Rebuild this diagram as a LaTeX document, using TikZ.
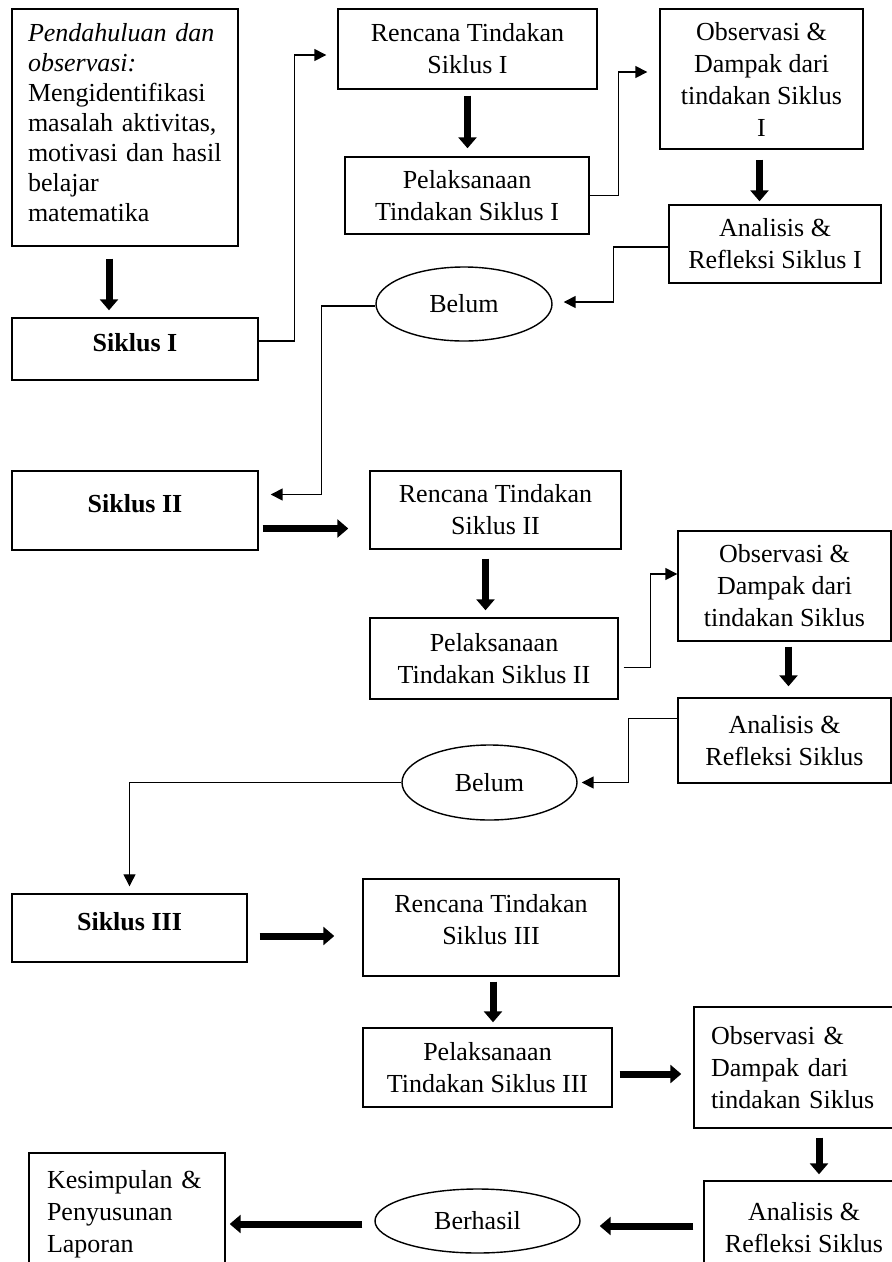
\documentclass[tikz,border=0pt]{standalone}
\usepackage{fontspec}
\setmainfont{Liberation Serif}
\usetikzlibrary{arrows.meta,shapes.geometric}
\tikzset{
  box/.style={draw, line width=1.4pt, rectangle, inner sep=0pt, align=center,
              font=\fontsize{26}{32}\selectfont},
  cyc/.style={box, font=\fontsize{26}{32}\selectfont\bfseries, text height=18pt, text depth=14pt},
  leftbox/.style={box, align=left, inner xsep=0pt},
  oval/.style={draw, ellipse, line width=1.4pt, inner sep=0pt,
               font=\fontsize{26}{32}\selectfont},
  fat/.style={line width=7pt, -{Triangle[width=18pt,length=11pt]}},
  link/.style={line width=1.5pt, -{Triangle[width=12pt,length=12pt]}},
}
\begin{document}
\begin{tikzpicture}[x=1pt,y=-1pt]
\useasboundingbox (0,0) rectangle (892,1262);
\clip (0,0) rectangle (892,1262);

% column 1
\node[leftbox, minimum width=226pt, minimum height=237pt, text width=194pt, text depth=190pt,
      font=\fontsize{26}{30}\selectfont] (pend) at (125,127.5)
  {\textit{Pendahuluan dan}\\\textit{observasi:}\\Mengidentifikasi\\masalah aktivitas,\\motivasi dan hasil\\belajar\\matematika};
\node[cyc, minimum width=246pt, minimum height=62pt] (s1) at (135,349) {Siklus I};
\node[cyc, minimum width=246pt, minimum height=79pt] (s2) at (135,510.5) {Siklus II};
\node[cyc, minimum width=235pt, minimum height=68pt] (s3) at (129.5,928) {Siklus III};
\node[leftbox, minimum width=196pt, minimum height=122pt, text width=160pt] (kes) at (127,1214)
  {Kesimpulan \&\\Penyusunan\\Laporan};

% cycle I
\node[box, minimum width=259pt, minimum height=80pt] (r1) at (467.5,49) {Rencana Tindakan\\Siklus I};
\node[box, minimum width=244pt, minimum height=77pt] (p1) at (467,195.5) {Pelaksanaan\\Tindakan Siklus I};
\node[box, minimum width=203pt, minimum height=140pt] (o1) at (761.5,79) {Observasi \&\\Dampak dari\\tindakan Siklus\\I};
\node[box, minimum width=212pt, minimum height=78pt] (a1) at (775,244) {Analisis \&\\Refleksi Siklus I};
\node[oval, minimum width=176pt, minimum height=74pt] (b1) at (464,304) {Belum};

% cycle II
\node[box, minimum width=251pt, minimum height=78pt] (r2) at (495.5,510) {Rencana Tindakan\\Siklus II};
\node[box, minimum width=248pt, minimum height=81pt] (p2) at (494,658.5) {Pelaksanaan\\Tindakan Siklus II};
\node[box, minimum width=213pt, minimum height=110pt] (o2) at (784.5,586) {Observasi \&\\Dampak dari\\tindakan Siklus};
\node[box, minimum width=213pt, minimum height=85pt] (a2) at (784.5,740.5) {Analisis \&\\Refleksi Siklus};
\node[oval, minimum width=175pt, minimum height=75pt] (b2) at (489.5,782.5) {Belum};

% cycle III
\node[box, minimum width=256pt, minimum height=97pt, text depth=52pt] (r3) at (491,927.5)
  {\begin{tabular}[t]{@{}c@{}}Rencana Tindakan\\Siklus III\end{tabular}};
\node[box, minimum width=249pt, minimum height=79pt] (p3) at (487.5,1067.5) {Pelaksanaan\\Tindakan Siklus III};
\node[leftbox, minimum width=199pt, minimum height=121pt, text width=165pt] (o3) at (793.5,1067.5)
  {Observasi \&\\Dampak dari\\tindakan Siklus};
\node[box, minimum width=200pt, minimum height=94pt] (a3) at (804,1228) {Analisis \&\\Refleksi Siklus};
\node[oval, minimum width=205pt, minimum height=64pt] (ber) at (477.5,1221) {Berhasil};

% connectors
\draw[fat, shorten <=12pt, shorten >=7pt] ([xshift=-16pt]pend.south) -- ([xshift=-26pt]s1.north);
\draw[link, shorten >=11pt] ([yshift=8pt]s1.east) -- ++(36,0) |- ([yshift=-6pt]r1.west);
\draw[fat, shorten <=6pt, shorten >=8pt] (r1.south) -- (r1.south |- p1.north);
\draw[link, shorten >=12pt] (p1.east) -- ++(29,0) |- ([yshift=7pt]o1.west);
\draw[fat, shorten <=10pt, shorten >=3pt] ([xshift=-2pt]o1.south) -- ([xshift=-2pt]o1.south |- a1.north);
\draw[link, shorten >=11pt] ([yshift=-3pt]a1.west) -- ++(-55,0) |- ([yshift=2pt]b1.east);
\draw[link, shorten >=12pt] ([yshift=-2pt]b1.west) -- ++(-54,0) |- ([yshift=16pt]s2.east);

\draw[fat, shorten <=4pt, shorten >=21pt] ([yshift=-18pt]s2.east) -- ([yshift=-18pt]s2.east -| r2.west);
\draw[fat, shorten <=9pt, shorten >=7pt] ([xshift=-10pt]r2.south) -- ([xshift=-10pt]r2.south |- p2.north);
\draw[link, shorten <=5pt] ([yshift=-9pt]p2.east) -- ++(32,0) |- ([yshift=12pt]o2.west);
\draw[fat, shorten <=5pt, shorten >=11pt] ([xshift=4pt]o2.south) -- ([xshift=4pt]o2.south |- a2.north);
\draw[link, shorten >=4pt] ([yshift=22pt]a2.west) -- ++(-49,0) |- (b2.east);
\draw[link, line width=1.2pt, shorten >=7pt] (b2.west) -| (s3.north);

\draw[fat, shorten <=12pt, shorten >=28pt] ([yshift=-8pt]s3.east) -- ([yshift=-8pt]s3.east -| r3.west);
\draw[fat, shorten <=5pt, shorten >=5pt] ([xshift=2pt]r3.south) -- ([xshift=2pt]r3.south |- p3.north);
\draw[fat, shorten <=7pt, shorten >=12pt] ([yshift=-6.5pt]p3.east) -- ([yshift=-6.5pt]p3.east -| o3.west);
\draw[fat, shorten <=9pt, shorten >=6pt] ([xshift=15pt]a3.north |- o3.south) -- ([xshift=15pt]a3.north);
\draw[fat, shorten <=10pt, shorten >=19pt] ([yshift=2pt]a3.west) -- ([yshift=2pt]a3.west -| ber.east);
\draw[fat, shorten <=12pt, shorten >=4pt] ([yshift=-3pt]ber.west) -- ([yshift=-3pt]ber.west -| kes.east);
\end{tikzpicture}
\end{document}
